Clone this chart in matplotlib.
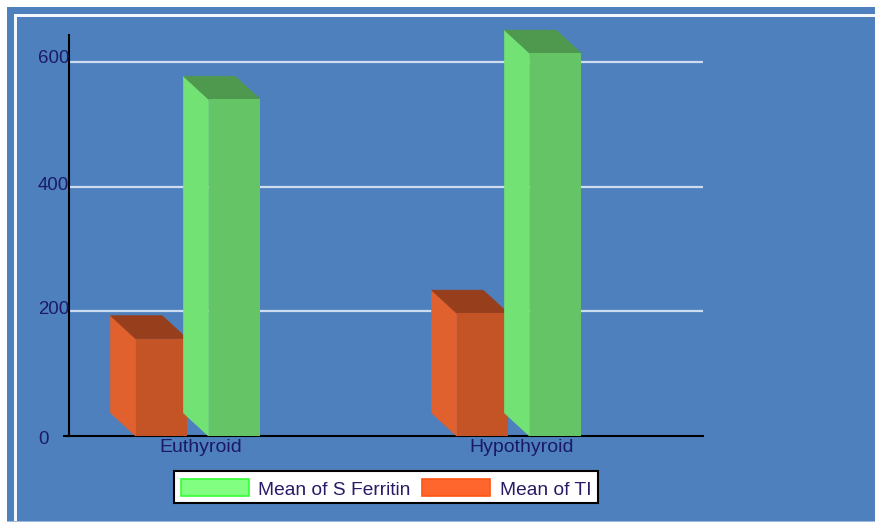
import matplotlib
matplotlib.use('Agg')
import matplotlib.pyplot as plt
from matplotlib.patches import Patch, Polygon, Rectangle

plt.rcParams['font.family'] = ['Liberation Sans', 'DejaVu Sans']

categories = ['Euthyroid', 'Hypothyroid']
ti_values = [156, 197]
ferritin_values = [540, 614]
yticks = [0, 200, 400, 600]
legend_labels = ['Mean of S Ferritin', 'Mean of TI']

W, H = 875, 523
BG = '#4d80bd'
TXT = '#1c1a66'

# chart area in pixels of the picture
ax_l, ax_r, ax_t, ax_b = 68.5, 703, 35, 436

fig = plt.figure(figsize=(W / 100, H / 100), dpi=100, facecolor='white')


def frame_rect(x0, y0, x1, y1, **kw):
    fig.patches.append(Rectangle((x0 / W, 1 - y1 / H), (x1 - x0) / W, (y1 - y0) / H,
                                 transform=fig.transFigure, figure=fig, zorder=-1,
                                 linewidth=0, **kw))


frame_rect(7, 7, W, 522, facecolor=BG)
frame_rect(13.5, 14, 16.5, 522, facecolor='#f4f7fb')
frame_rect(13.5, 14, W, 17, facecolor='#f4f7fb')
frame_rect(7, 521.3, W, 522, facecolor='#9db9dc')

ax = fig.add_axes([ax_l / W, 1 - ax_b / H, (ax_r - ax_l) / W, (ax_b - ax_t) / H])
ax.patch.set_visible(False)
ax.set_xlim((ax_l - 198) / 321, (ax_r - 198) / 321)
ax.set_ylim(0, 643)

for s in ['top', 'right']:
    ax.spines[s].set_visible(False)
for s in ['left', 'bottom']:
    ax.spines[s].set_linewidth(1.5)
    ax.spines[s].set_color('black')

# size of one picture pixel in data units, for the fake depth
px_x = (ax.get_xlim()[1] - ax.get_xlim()[0]) / (ax_r - ax_l)
px_y = 643 / (ax_b - ax_t)
dx = 25 * px_x
dy = 23 * px_y
bar_w = 51.5 * px_x


def bar3d(xc, val, front, side, top):
    x0 = xc - bar_w / 2
    x1 = xc + bar_w / 2
    # thin edge in the face colour so no gridline shows through the seams
    ax.add_patch(Polygon([(x0, 0), (x0, val), (x0 - dx, val + dy), (x0 - dx, dy)],
                         facecolor=side, edgecolor=side, linewidth=0.5, clip_on=False, zorder=3))
    ax.add_patch(Polygon([(x0, val), (x1, val), (x1 - dx, val + dy), (x0 - dx, val + dy)],
                         facecolor=top, edgecolor=top, linewidth=0.5, clip_on=False, zorder=3))
    ax.add_patch(Rectangle((x0, 0), bar_w, val, facecolor=front, edgecolor='none',
                           clip_on=False, zorder=3))


for i in range(len(categories)):
    bar3d(i - 0.114, ti_values[i], '#c45426', '#e0602e', '#973f1c')
    bar3d(i + 0.113, ferritin_values[i], '#64c466', '#73e274', '#4f994f')

ax.hlines(yticks[1:], ax.get_xlim()[0], ax.get_xlim()[1], color='#cddcef', linewidth=1.6, zorder=1)

ax.set_xticks([0, 1])
ax.set_xticklabels([])
ax.set_yticks([0])
ax.set_yticklabels([])
ax.tick_params(axis='x', length=0)
ax.tick_params(axis='y', length=4.5, width=1.5, color='black')

# tick labels do not sit exactly on their gridlines in the original, left aligned at x=38
y_off = {0: -4, 200: 2, 400: 1, 600: 3}
for v in yticks:
    ax.annotate(str(v), (0, v), xycoords=('axes fraction', 'data'),
                xytext=((38 - ax_l) * 0.72, y_off[v] * 0.72), textcoords='offset points',
                ha='left', va='center', fontsize=13.4, color=TXT, zorder=5)
for i, c in enumerate(categories):
    ax.annotate(c, (i, 0), xytext=(1.9, -12 * 0.72), textcoords='offset points',
                ha='center', va='center', fontsize=14, color=TXT)

handles = [Patch(facecolor='#80ff80', edgecolor='#33ff33', linewidth=1.2),
           Patch(facecolor='#ff662e', edgecolor='#ff5511', linewidth=1.2)]
leg = fig.legend(handles, legend_labels, ncol=2, loc='center',
                 bbox_to_anchor=(386 / W, 1 - 487 / H), fontsize=13.75,
                 frameon=True, fancybox=False, framealpha=1, facecolor='white', edgecolor='black',
                 handlelength=3.55, handleheight=1.0, handletextpad=0.5, columnspacing=0.62,
                 borderpad=0.35, borderaxespad=0, labelcolor='#2a1a66')
leg.get_frame().set_linewidth(1.5)
for t in leg.get_texts():
    t.set_y(-2.5)
for h in leg.legend_handles:
    h.set_y(h.get_y() - 1.2)

fig.savefig('out.png', dpi=100)
